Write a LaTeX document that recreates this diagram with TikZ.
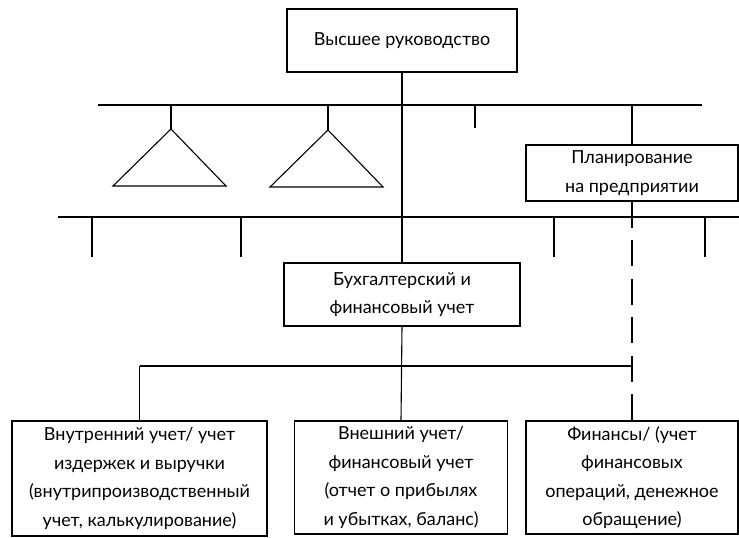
\documentclass[tikz,border=0pt]{standalone}
\usepackage{fontspec}
\setmainfont{Lato}
\begin{document}
\begin{tikzpicture}[x=1pt,y=-1pt,
  line width=1.1pt,
  every node/.style={font=\fontsize{18}{28.5}\selectfont},
  unit/.style={draw, align=center, inner sep=0pt},
  dotted link/.style={draw, dash pattern=on 26pt off 12.5pt}]
\useasboundingbox (0,0) rectangle (739,538);

% boxes
\node[unit, minimum width=230pt, minimum height=63pt] (top) at (402,40.5) {Высшее руководство};
\node[unit, minimum width=212pt, minimum height=56pt] (plan) at (632,173) {Планирование\\на предприятии};
\node[unit, minimum width=236pt, minimum height=63pt] (mid) at (402,294.5) {Бухгалтерский и\\финансовый учет};
\node[unit, minimum width=255pt, minimum height=115pt] (bA) at (139.5,478.5)
  {Внутренний учет/ учет\\издержек и выручки\\(внутрипроизводственный\\учет, калькулирование)};
\node[unit, minimum width=213pt, minimum height=113pt] (bB) at (401,477.5)
  {Внешний учет/\\финансовый учет\\(отчет о прибылях\\и убытках, баланс)};
\node[unit, minimum width=212pt, minimum height=113pt] (bC) at (632,477.5)
  {Финансы/ (учет\\финансовых\\операций, денежное\\обращение)};

% upper bus
\coordinate (busA-l) at (98,105);
\coordinate (busA-r) at (702,105);
\draw (busA-l) -- (busA-r);

% two triangles hanging from the upper bus
\coordinate (triA-top) at (171,105);
\coordinate (triA-apex) at (171,129);
\draw (triA-top) -- (triA-apex);
\draw (triA-apex) -- (113,186) -- (226,186) -- cycle;
\coordinate (triB-top) at (328,105);
\coordinate (triB-apex) at (328,130);
\draw (triB-top) -- (triB-apex);
\draw (triB-apex) -- (270,187) -- (383,187) -- cycle;

% short tick and planning stem
\coordinate (tickA-top) at (475,105);
\coordinate (tickA-end) at (475,128);
\draw (tickA-top) -- (tickA-end);
\coordinate (plan-stem) at (632,105);
\draw (plan-stem) -- (plan.north);

% lower bus with its ticks
\coordinate (busB-l) at (58,217);
\coordinate (busB-r) at (739,217);
\draw (busB-l) -- (busB-r);
\foreach \x [count=\i] in {92,241,554,705} {
  \coordinate (tk\i-a) at (\x,217);
  \coordinate (tk\i-b) at (\x,257);
  \draw (tk\i-a) -- (tk\i-b);
}

% main trunk
\draw (top.south) -- (mid.north);
\draw (mid.south) -- (bB.north);

% bus to the lower boxes
\coordinate (busC-l) at (bA.north |- 0,366);
\coordinate (busC-r) at (bC.north |- 0,366);
\draw (busC-l) -- (busC-r);
\draw (busC-l) -- (bA.north);

% dashed link from planning to finance
\draw[dotted link] (plan.south) -- (bC.north);
\end{tikzpicture}
\end{document}
